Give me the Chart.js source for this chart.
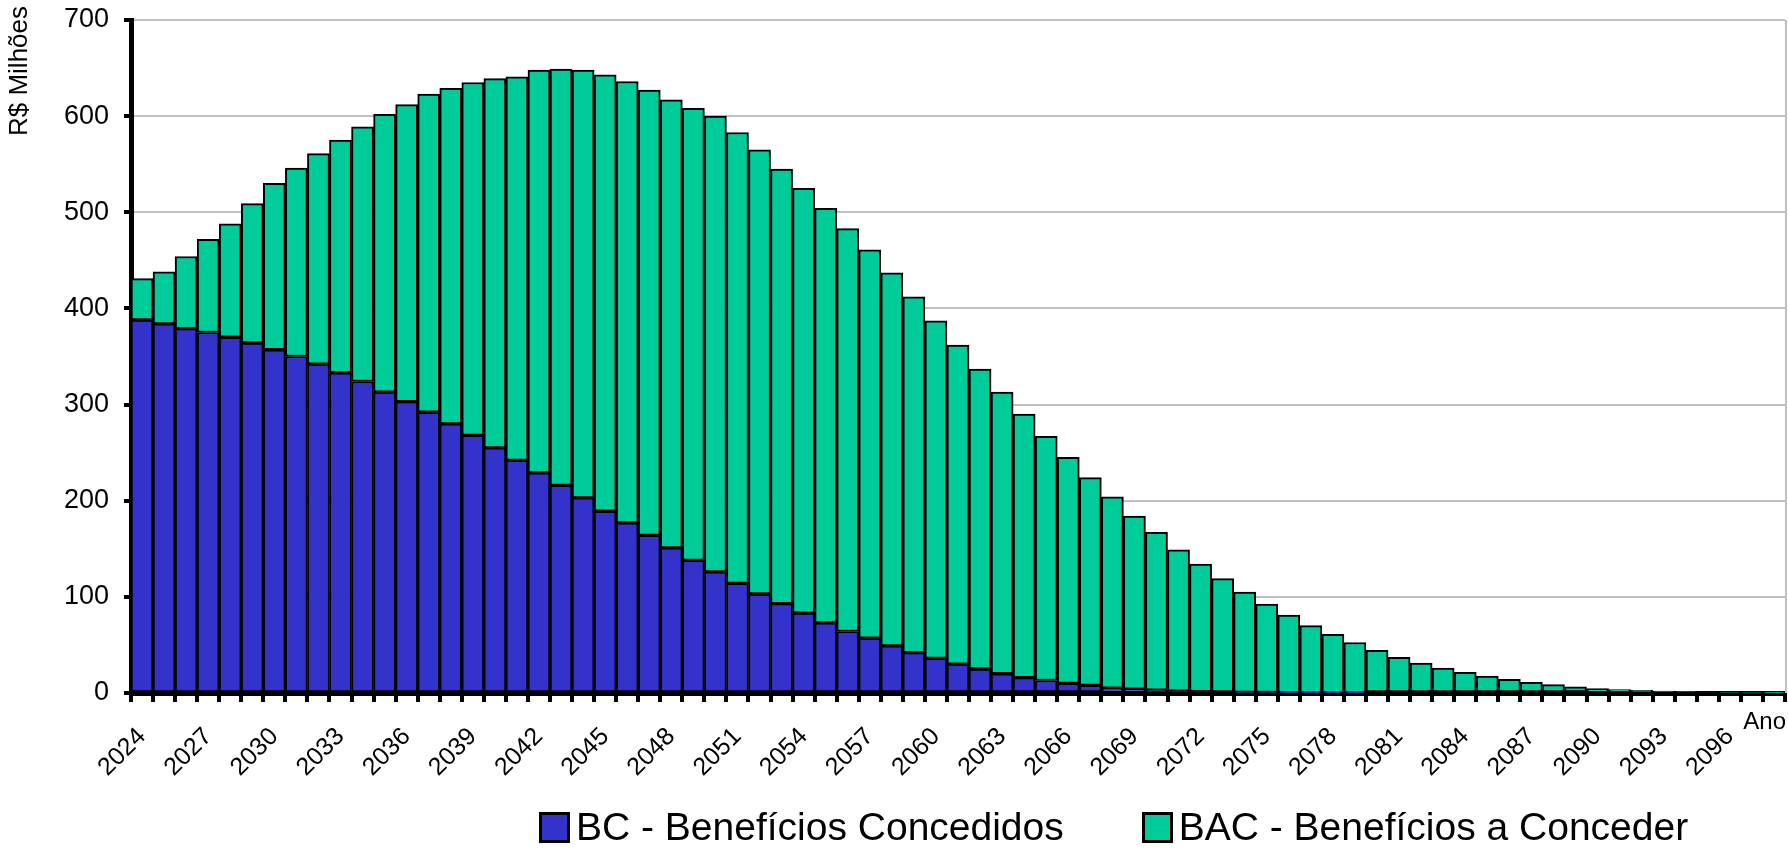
<!DOCTYPE html>
<html lang="pt-BR">
<head>
<meta charset="utf-8">
<title>BC e BAC - Projeção</title>
<script src="https://cdn.jsdelivr.net/npm/chart.js@4.4.1/dist/chart.umd.min.js"></script>
<style>
  html, body { margin: 0; padding: 0; background: #fff; }
  #wrap { position: relative; width: 1788px; height: 851px; }
  #legend {
    position: absolute; left: 539px; top: 807px; height: 40px;
    font-family: 'Liberation Sans', Arial, sans-serif; font-size: 39px; color: #000;
    display: flex; align-items: center; white-space: nowrap;
  }
  .item { display: flex; align-items: center; }
  .box { width: 25px; height: 25px; border: 3px solid #000; margin-right: 6px; }
  .gap { width: 78px; }
</style>
</head>
<body>
<div id="wrap">
  <canvas id="chart" width="1788" height="851"></canvas>
  <div id="legend"></div>
</div>
<script>
const years = [
  '2024', '2025', '2026', '2027', '2028', '2029', '2030', '2031', '2032', '2033',
  '2034', '2035', '2036', '2037', '2038', '2039', '2040', '2041', '2042', '2043',
  '2044', '2045', '2046', '2047', '2048', '2049', '2050', '2051', '2052', '2053',
  '2054', '2055', '2056', '2057', '2058', '2059', '2060', '2061', '2062', '2063',
  '2064', '2065', '2066', '2067', '2068', '2069', '2070', '2071', '2072', '2073',
  '2074', '2075', '2076', '2077', '2078', '2079', '2080', '2081', '2082', '2083',
  '2084', '2085', '2086', '2087', '2088', '2089', '2090', '2091', '2092', '2093',
  '2094', '2095', '2096', '2097', '2098'
];

// anos que aparecem no eixo (de 3 em 3)
const shownYears = [
  '2024', '2027', '2030', '2033', '2036', '2039', '2042', '2045', '2048', '2051',
  '2054', '2057', '2060', '2063', '2066', '2069', '2072', '2075', '2078', '2081',
  '2084', '2087', '2090', '2093', '2096'
];

// R$ milhões
const bcValues = [
  388, 384, 379, 375, 370, 364, 357, 350, 342, 333,
  324, 313, 303, 292, 280, 268, 255, 242, 229, 216,
  203, 189, 177, 164, 151, 138, 126, 114, 103, 93,
  83, 73, 64, 57, 49, 42, 36, 30, 25, 20,
  16, 13, 10, 8, 5, 4, 3, 2, 1.5, 1,
  0.7, 0.5, 0.3, 0.2, 0.1, 0.1, 0, 0, 0, 0,
  0, 0, 0, 0, 0, 0, 0, 0, 0, 0,
  0, 0, 0, 0, 0
];

const bacValues = [
  43, 54, 75, 97, 118, 145, 173, 196, 219, 242,
  265, 289, 309, 331, 349, 367, 384, 399, 419, 433,
  445, 454, 459, 463, 466, 470, 474, 469, 462, 452,
  442, 431, 419, 404, 388, 370, 351, 332, 312, 293,
  274, 254, 235, 216, 199, 180, 164, 147, 132.5, 118,
  104.3, 92, 80.7, 69.8, 60.9, 52.4, 44.5, 37, 31, 26,
  21.5, 17.5, 14.3, 11.1, 8.7, 6.3, 4.5, 3.5, 2.8, 2.1,
  1.4, 1.0, 0.7, 0.5, 0.3
];

const seriesNames = ['BC - Benefícios Concedidos', 'BAC - Benefícios a Conceder'];
const COLORS = { bc: '#3333CC', bac: '#00CC99', grid: '#c0c0c0' };
const FONT = "'Liberation Sans', Arial, sans-serif";

// legenda em HTML (fica deslocada para a direita como no original)
function buildLegend() {
  const legend = document.getElementById('legend');
  [COLORS.bc, COLORS.bac].forEach((color, i) => {
    if (i > 0) {
      const gap = document.createElement('div');
      gap.className = 'gap';
      legend.appendChild(gap);
    }
    const item = document.createElement('div');
    item.className = 'item';
    const box = document.createElement('div');
    box.className = 'box';
    box.style.background = color;
    const label = document.createElement('span');
    label.textContent = seriesNames[i];
    item.appendChild(box);
    item.appendChild(label);
    legend.appendChild(item);
  });
}

// borda direita, título do eixo y no topo e o rótulo "Ano"
const extras = {
  id: 'extras',
  afterDraw(chart) {
    const { ctx, chartArea } = chart;
    ctx.save();
    ctx.strokeStyle = COLORS.grid;
    ctx.lineWidth = 2;
    ctx.beginPath();
    ctx.moveTo(chartArea.right + 1, chartArea.top);
    ctx.lineTo(chartArea.right + 1, chartArea.bottom);
    ctx.stroke();

    ctx.fillStyle = '#000';
    ctx.font = `24px ${FONT}`;
    ctx.textAlign = 'right';
    ctx.textBaseline = 'alphabetic';
    ctx.fillText('Ano', 1786, 729);

    ctx.translate(20, 71);
    ctx.rotate(-Math.PI / 2);
    ctx.font = `26px ${FONT}`;
    ctx.textAlign = 'center';
    ctx.textBaseline = 'middle';
    ctx.fillText('R$ Milhões', 0, 0);
    ctx.restore();
  }
};

buildLegend();

new Chart(document.getElementById('chart'), {
  type: 'bar',
  data: {
    labels: years,
    datasets: [
      {
        label: seriesNames[0],
        data: bcValues,
        backgroundColor: COLORS.bc,
        borderColor: '#000',
        borderWidth: 2,
        borderSkipped: false
      },
      {
        label: seriesNames[1],
        data: bacValues,
        backgroundColor: COLORS.bac,
        borderColor: '#000',
        borderWidth: 2,
        borderSkipped: false
      }
    ]
  },
  options: {
    responsive: false,
    animation: false,
    layout: { padding: { top: 20, right: 3, left: 0, bottom: 0 } },
    datasets: { bar: { categoryPercentage: 1, barPercentage: 1 } },
    plugins: {
      legend: { display: false },
      tooltip: { enabled: false }
    },
    scales: {
      x: {
        stacked: true,
        offset: true,
        afterFit: (scale) => {
          scale.height = 158;
          scale.paddingLeft = 0;
          scale.paddingRight = 0;
        },
        border: { color: '#000', width: 5 },
        grid: {
          display: true,
          drawOnChartArea: false,
          drawTicks: true,
          offset: true,
          color: '#000',
          lineWidth: 4,
          tickLength: 9
        },
        ticks: {
          autoSkip: false,
          minRotation: 45,
          maxRotation: 45,
          padding: 20,
          color: '#000',
          font: { family: FONT, size: 25 },
          callback(value) {
            const year = this.getLabelForValue(value);
            return shownYears.includes(year) ? year : '';
          }
        }
      },
      y: {
        stacked: true,
        min: 0,
        max: 700,
        afterFit: (scale) => {
          scale.width = 131;
          scale.paddingTop = 0;
          scale.paddingBottom = 0;
        },
        border: { color: '#000', width: 5 },
        grid: {
          color: COLORS.grid,
          lineWidth: 2,
          tickColor: '#000',
          tickWidth: 4,
          tickLength: 7
        },
        ticks: {
          stepSize: 100,
          padding: 15,
          color: '#000',
          font: { family: FONT, size: 27 }
        }
      }
    }
  },
  plugins: [extras]
});
</script>
</body>
</html>
